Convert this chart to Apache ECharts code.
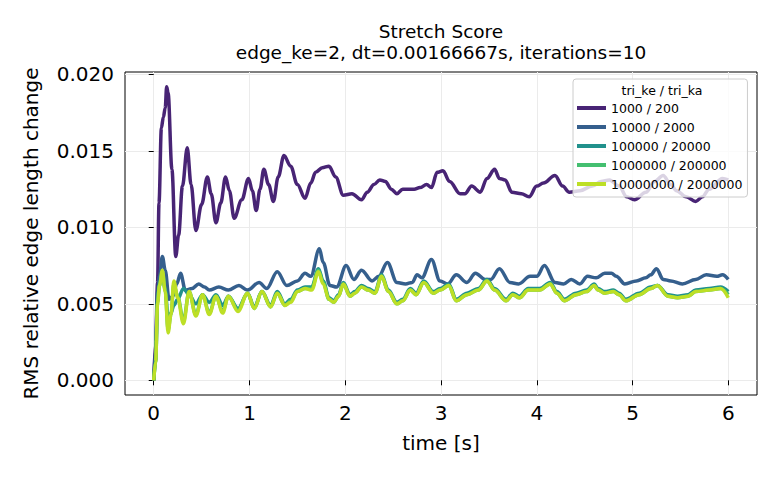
<!DOCTYPE html>
<html>
<head>
<meta charset="utf-8">
<script src="https://cdn.jsdelivr.net/npm/echarts@6/dist/echarts.min.js"></script>
<style>
html,body{margin:0;padding:0;background:#fff;}
#chart{width:780px;height:480px;}
</style>
</head>
<body>
<div id="chart"></div>
<script>
// ---- data ----
const seriesNames = ['1000 / 200', '10000 / 2000', '100000 / 20000', '1000000 / 200000', '10000000 / 2000000'];
const xTicks = [0, 1, 2, 3, 4, 5, 6];
const yTicks = [0, 0.005, 0.010, 0.015, 0.020];

const timePurple = [0,0.02,0.04,0.055,0.08,0.1,0.12,0.135,0.15,0.19,0.23,0.26,0.3,0.35,0.39,0.44,0.5,0.56,0.6,0.65,0.7,0.75,0.79,0.84,0.92,0.99,1.03,1.07,1.11,1.15,1.2,1.25,1.3,1.36,1.43,1.5,1.58,1.64,1.69,1.76,1.83,1.9,1.98,2.07,2.17,2.23,2.3,2.36,2.42,2.48,2.54,2.6,2.66,2.72,2.78,2.85,2.9,2.96,3.02,3.09,3.2,3.25,3.32,3.41,3.48,3.56,3.61,3.67,3.74,3.84,3.92,4.0,4.07,4.19,4.27,4.34,4.45,4.58,4.67,4.76,4.86,4.94,5.02,5.14,5.23,5.32,5.4,5.46,5.56,5.66,5.73,5.8,5.94,6.0];
const valPurple = [0,0.0025,0.0064,0.0116,0.0165,0.0172,0.0178,0.0192,0.0188,0.0138,0.0081,0.0095,0.0127,0.0152,0.0128,0.0098,0.0115,0.0133,0.0122,0.0103,0.0116,0.0133,0.0124,0.0106,0.0118,0.0132,0.0124,0.0111,0.0125,0.0138,0.0128,0.0117,0.0133,0.0147,0.0140,0.0128,0.0119,0.0129,0.0136,0.0139,0.0140,0.0133,0.0121,0.0122,0.0118,0.0123,0.0128,0.0131,0.0130,0.0125,0.0122,0.0125,0.0125,0.0125,0.0126,0.0128,0.0126,0.0136,0.0137,0.0130,0.0122,0.0122,0.0127,0.0123,0.0132,0.0138,0.0132,0.0131,0.0123,0.0122,0.0120,0.0127,0.0129,0.0134,0.0127,0.0123,0.0124,0.0127,0.0130,0.0131,0.0127,0.0120,0.0118,0.0123,0.0130,0.0134,0.0128,0.0124,0.0120,0.0117,0.0120,0.0125,0.0132,0.0131];

const timeBlue = [0,0.02,0.04,0.06,0.09,0.12,0.16,0.2,0.24,0.28,0.33,0.4,0.47,0.53,0.58,0.68,0.78,0.89,0.98,1.1,1.18,1.29,1.39,1.5,1.58,1.64,1.73,1.77,1.84,1.91,2.01,2.09,2.17,2.28,2.35,2.44,2.54,2.63,2.7,2.75,2.8,2.9,2.99,3.07,3.16,3.27,3.36,3.46,3.52,3.61,3.72,3.81,3.93,4.0,4.08,4.19,4.28,4.36,4.45,4.53,4.62,4.71,4.78,4.83,4.92,5.04,5.14,5.19,5.25,5.32,5.4,5.52,5.66,5.77,5.88,5.94,6.0];
const valBlue = [0,0.0020,0.0058,0.0068,0.0081,0.0072,0.0053,0.0055,0.0063,0.0070,0.0059,0.0060,0.0063,0.0061,0.0059,0.0061,0.0059,0.0062,0.0059,0.0064,0.0060,0.0071,0.0062,0.0065,0.0070,0.0068,0.0086,0.0077,0.0062,0.0061,0.0075,0.0066,0.0072,0.0065,0.0068,0.0077,0.0064,0.0063,0.0064,0.0069,0.0067,0.0079,0.0065,0.0063,0.0069,0.0064,0.0070,0.0066,0.0066,0.0073,0.0064,0.0063,0.0068,0.0068,0.0075,0.0064,0.0063,0.0066,0.0063,0.0068,0.0067,0.0070,0.0070,0.0068,0.0063,0.0065,0.0067,0.0069,0.0073,0.0066,0.0065,0.0063,0.0066,0.0069,0.0068,0.0069,0.0066];

const timeLow = [0,0.02,0.04,0.06,0.09,0.12,0.15,0.18,0.21,0.25,0.31,0.37,0.44,0.51,0.58,0.65,0.72,0.78,0.88,0.98,1.05,1.13,1.22,1.29,1.37,1.43,1.5,1.58,1.65,1.72,1.77,1.83,1.88,1.93,1.98,2.05,2.1,2.17,2.24,2.31,2.38,2.45,2.54,2.6,2.68,2.74,2.82,2.92,2.99,3.08,3.16,3.27,3.39,3.48,3.56,3.68,3.75,3.82,3.91,4.03,4.14,4.21,4.29,4.41,4.52,4.6,4.64,4.71,4.8,4.86,4.93,5.07,5.19,5.26,5.37,5.47,5.58,5.66,5.8,5.92,6.0];
const valTeal = [0,0.0013,0.0053,0.0063,0.0070,0.0060,0.0040,0.0044,0.0049,0.0053,0.0060,0.0056,0.0050,0.0056,0.0051,0.0056,0.0049,0.0055,0.0047,0.0057,0.0048,0.0058,0.0049,0.0058,0.0050,0.0053,0.0059,0.0061,0.0061,0.0073,0.0065,0.0054,0.0052,0.0056,0.0064,0.0056,0.0058,0.0062,0.0060,0.0058,0.0069,0.0059,0.0051,0.0053,0.0060,0.0057,0.0065,0.0058,0.0060,0.0063,0.0053,0.0057,0.0060,0.0066,0.0060,0.0053,0.0057,0.0055,0.0060,0.0060,0.0064,0.0058,0.0053,0.0057,0.0059,0.0063,0.0060,0.0058,0.0059,0.0057,0.0053,0.0057,0.0061,0.0062,0.0056,0.0055,0.0056,0.0059,0.0060,0.0061,0.0058];
const valGreen = [0,0.0012,0.0051,0.0062,0.0071,0.0059,0.0033,0.0043,0.0063,0.0055,0.0039,0.0058,0.0043,0.0056,0.0044,0.0055,0.0045,0.0055,0.0046,0.0057,0.0047,0.0058,0.0048,0.0057,0.0049,0.0052,0.0058,0.0060,0.0060,0.0072,0.0064,0.0053,0.0051,0.0055,0.0063,0.0055,0.0057,0.0061,0.0059,0.0057,0.0068,0.0058,0.0050,0.0052,0.0059,0.0056,0.0064,0.0057,0.0059,0.0062,0.0052,0.0056,0.0059,0.0065,0.0059,0.0052,0.0056,0.0054,0.0059,0.0059,0.0063,0.0057,0.0052,0.0056,0.0058,0.0062,0.0059,0.0057,0.0058,0.0056,0.0052,0.0056,0.0060,0.0062,0.0055,0.0054,0.0055,0.0058,0.0059,0.0060,0.0056];
const valYellow = [0,0.0012,0.0050,0.0062,0.0072,0.0058,0.0031,0.0043,0.0065,0.0054,0.0037,0.0058,0.0042,0.0056,0.0043,0.0055,0.0044,0.0055,0.0045,0.0057,0.0047,0.0058,0.0048,0.0057,0.0049,0.0051,0.0058,0.0060,0.0059,0.0071,0.0063,0.0053,0.0051,0.0055,0.0063,0.0055,0.0057,0.0061,0.0059,0.0057,0.0068,0.0058,0.0050,0.0052,0.0059,0.0056,0.0064,0.0057,0.0059,0.0062,0.0052,0.0056,0.0059,0.0065,0.0059,0.0052,0.0056,0.0054,0.0059,0.0059,0.0063,0.0057,0.0052,0.0056,0.0058,0.0062,0.0059,0.0057,0.0058,0.0056,0.0052,0.0056,0.0060,0.0062,0.0055,0.0054,0.0055,0.0058,0.0059,0.0060,0.0054];

const colors = ['#482475', '#355f8d', '#21918c', '#44bf70', '#bddf26'];

// ---- chart ----
const pairs = (ts, vs) => ts.map((t, i) => [t, vs[i]]);
const seriesData = [
  pairs(timePurple, valPurple),
  pairs(timeBlue, valBlue),
  pairs(timeLow, valTeal),
  pairs(timeLow, valGreen),
  pairs(timeLow, valYellow)
];

const FONT = 'DejaVu Sans';
const chart = echarts.init(document.getElementById('chart'), null, {renderer: 'svg'});
const gridL = 125, gridR = 23, gridT = 72, gridB = 85;
const cx = gridL + (780 - gridL - gridR) / 2;
const TICK_FS = 20, TITLE_FS = 18.5, LEG_FS = 12.5;

function centeredText(text, x, y, size) {
  return {type: 'text', x: x, y: y, z: 100,
    style: {text: text, font: size + 'px "DejaVu Sans"', fill: '#000',
      align: 'center', verticalAlign: 'middle', textAlign: 'center', textVerticalAlign: 'middle'}};
}

chart.setOption({
  animation: false,
  backgroundColor: '#ffffff',
  color: colors,
  textStyle: {fontFamily: FONT},
  grid: {left: gridL, right: gridR, top: gridT, bottom: gridB, show: true, borderColor: '#000', borderWidth: 1, backgroundColor: 'transparent'},
  graphic: [
    centeredText('Stretch Score', cx, 31, TITLE_FS),
    centeredText('edge_ke=2, dt=0.00166667s, iterations=10', cx, 52, TITLE_FS),
    centeredText('tri_ke / tri_ka', 662, 90, LEG_FS)
  ],
  legend: {
    data: seriesNames,
    orient: 'vertical',
    left: 573, top: 79,
    icon: 'rect',
    itemWidth: 29, itemHeight: 4,
    itemGap: 5,
    padding: [22, 5, 6, 4],
    backgroundColor: 'rgba(255,255,255,0.8)',
    borderColor: '#cccccc', borderWidth: 1, borderRadius: 3,
    textStyle: {fontFamily: FONT, fontSize: LEG_FS, color: '#000', lineHeight: 14},
    z: 50
  },
  xAxis: {
    type: 'value', min: -0.3, max: 6.3,
    name: 'time [s]', nameLocation: 'middle', nameGap: 38,
    nameTextStyle: {fontFamily: FONT, fontSize: TICK_FS, color: '#000'},
    axisLine: {show: false},
    axisTick: {show: true, inside: false, length: 5, lineStyle: {color: '#000'}, customValues: xTicks},
    axisLabel: {customValues: xTicks, fontFamily: FONT, fontSize: TICK_FS, color: '#000', margin: 8, formatter: v => String(v)},
    splitLine: {show: true, lineStyle: {color: '#ebebeb', width: 1}}
  },
  yAxis: {
    type: 'value', min: -0.00096, max: 0.02016,
    name: 'RMS relative edge length change', nameLocation: 'middle', nameGap: 84, nameRotate: 90,
    nameTextStyle: {fontFamily: FONT, fontSize: TICK_FS, color: '#000'},
    axisLine: {show: false},
    axisTick: {show: true, inside: false, length: 5, lineStyle: {color: '#000'}, customValues: yTicks},
    axisLabel: {customValues: yTicks, fontFamily: FONT, fontSize: TICK_FS, color: '#000', margin: 11, formatter: v => v.toFixed(3)},
    splitLine: {show: true, lineStyle: {color: '#ebebeb', width: 1}}
  },
  series: seriesNames.map((n, i) => ({
    name: n, type: 'line', data: seriesData[i],
    showSymbol: false, smooth: 0.35, smoothMonotone: 'x',
    lineStyle: {width: 3.5, color: colors[i]},
    itemStyle: {color: colors[i]},
    z: 2 + i, clip: true
  }))
});
</script>
</body>
</html>
